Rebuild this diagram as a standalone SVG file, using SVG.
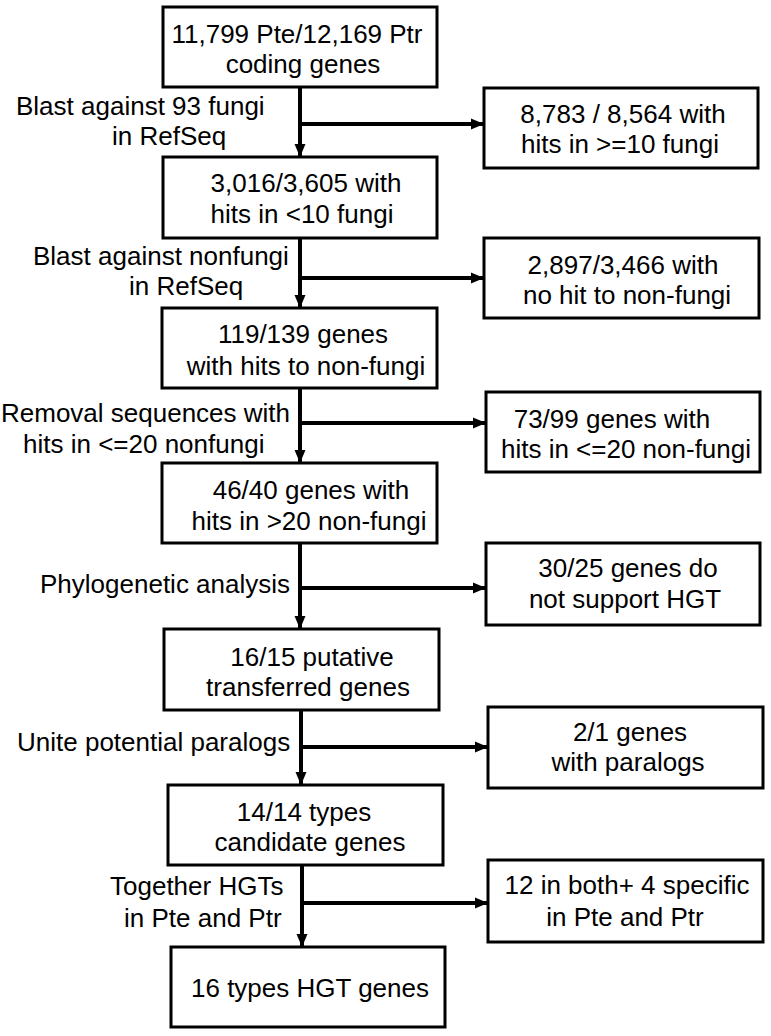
<svg xmlns="http://www.w3.org/2000/svg" width="771" height="1036" viewBox="0 0 771 1036">
<defs>
<marker id="ah" markerUnits="userSpaceOnUse" markerWidth="14" markerHeight="14" viewBox="0 0 14 14" refX="13" refY="7" orient="auto">
<path d="M0,1.5 L13,7 L0,12.5 Z" fill="#000"/>
</marker>
<style>
.box{fill:#fff;stroke:#000;stroke-width:3}
.t{font-family:"Liberation Sans",Arial,sans-serif;font-size:26px;fill:#000;text-anchor:middle}
.l{font-family:"Liberation Sans",Arial,sans-serif;font-size:26px;fill:#000}
.c{stroke:#000;stroke-width:4;fill:none}
</style>
</defs>
<rect width="771" height="1036" fill="#fff"/>
<g id="connectors">
<line class="c" x1="300" y1="87" x2="300" y2="157" marker-end="url(#ah)"/>
<line class="c" x1="300" y1="124" x2="484" y2="124" marker-end="url(#ah)"/>
<line class="c" x1="300" y1="238" x2="300" y2="308" marker-end="url(#ah)"/>
<line class="c" x1="300" y1="278" x2="484" y2="278" marker-end="url(#ah)"/>
<line class="c" x1="300" y1="388" x2="300" y2="463" marker-end="url(#ah)"/>
<line class="c" x1="300" y1="423" x2="486" y2="423" marker-end="url(#ah)"/>
<line class="c" x1="300" y1="543" x2="300" y2="629" marker-end="url(#ah)"/>
<line class="c" x1="300" y1="588" x2="486" y2="588" marker-end="url(#ah)"/>
<line class="c" x1="301" y1="710" x2="301" y2="785" marker-end="url(#ah)"/>
<line class="c" x1="301" y1="747" x2="488" y2="747" marker-end="url(#ah)"/>
<line class="c" x1="302" y1="865" x2="302" y2="947" marker-end="url(#ah)"/>
<line class="c" x1="302" y1="903" x2="488" y2="903" marker-end="url(#ah)"/>
</g>
<g id="labels">
<text class="l" x="16" y="115">Blast against 93 fungi</text>
<text class="l" x="112" y="145">in RefSeq</text>
<text class="l" x="33" y="265">Blast against nonfungi</text>
<text class="l" x="129" y="295">in RefSeq</text>
<text class="l" x="1" y="422">Removal sequences with</text>
<text class="l" x="23" y="453">hits in &lt;=20 nonfungi</text>
<text class="l" x="40" y="593">Phylogenetic analysis</text>
<text class="l" x="17" y="751">Unite potential paralogs</text>
<text class="l" x="110" y="895">Together HGTs</text>
<text class="l" x="124" y="927">in Pte and Ptr</text>
</g>
<g id="n1"><rect class="box" x="163" y="7" width="274" height="80"/>
<text class="t" x="297" y="43">11,799 Pte/12,169 Ptr</text><text class="t" x="303" y="73">coding genes</text></g>
<g id="n2"><rect class="box" x="163" y="157" width="274" height="81"/>
<text class="t" x="306" y="192">3,016/3,605 with</text><text class="t" x="302" y="223">hits in &lt;10 fungi</text></g>
<g id="n3"><rect class="box" x="162" y="308" width="275" height="80"/>
<text class="t" x="303" y="343">119/139 genes</text><text class="t" x="306" y="375">with hits to non-fungi</text></g>
<g id="n4"><rect class="box" x="162" y="463" width="275" height="80"/>
<text class="t" x="311" y="499">46/40 genes with</text><text class="t" x="309" y="530">hits in &gt;20 non-fungi</text></g>
<g id="n5"><rect class="box" x="164" y="629" width="275" height="81"/>
<text class="t" x="312" y="666">16/15 putative</text><text class="t" x="308" y="696">transferred genes</text></g>
<g id="n6"><rect class="box" x="168" y="785" width="275" height="80"/>
<text class="t" x="304" y="821">14/14 types</text><text class="t" x="310" y="851">candidate genes</text></g>
<g id="n7"><rect class="box" x="171" y="947" width="274" height="80"/>
<text class="t" x="310" y="997">16 types HGT genes</text></g>
<g id="r1"><rect class="box" x="484" y="88" width="274" height="80"/>
<text class="t" x="623" y="123">8,783 / 8,564 with</text><text class="t" x="620" y="153">hits in &gt;=10 fungi</text></g>
<g id="r2"><rect class="box" x="484" y="238" width="275" height="80"/>
<text class="t" x="623" y="274">2,897/3,466 with</text><text class="t" x="627" y="304">no hit to non-fungi</text></g>
<g id="r3"><rect class="box" x="486" y="392" width="274" height="80"/>
<text class="t" x="612" y="428">73/99 genes with</text><text class="t" x="626" y="458">hits in &lt;=20 non-fungi</text></g>
<g id="r4"><rect class="box" x="486" y="543" width="274" height="82"/>
<text class="t" x="628" y="577">30/25 genes do</text><text class="t" x="625" y="608">not support HGT</text></g>
<g id="r5"><rect class="box" x="488" y="707" width="275" height="81"/>
<text class="t" x="630" y="741">2/1 genes</text><text class="t" x="628" y="771">with paralogs</text></g>
<g id="r6"><rect class="box" x="488" y="860" width="275" height="82"/>
<text class="t" x="627" y="894">12 in both+ 4 specific</text><text class="t" x="625" y="926">in Pte and Ptr</text></g>
</svg>
